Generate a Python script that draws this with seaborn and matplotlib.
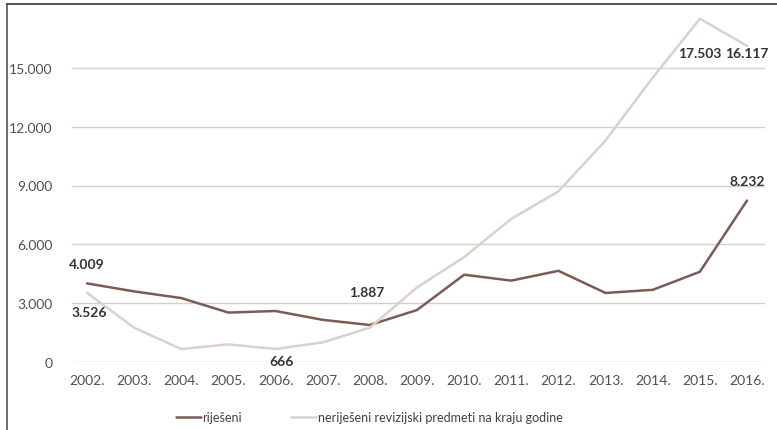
import pandas as pd
import numpy as np
import matplotlib
matplotlib.use("Agg")
import matplotlib.pyplot as plt
import seaborn as sns

# -----------------------------
# Data
# -----------------------------

years = ["2002.", "2003.", "2004.", "2005.", "2006.", "2007.", "2008.",
         "2009.", "2010.", "2011.", "2012.", "2013.", "2014.", "2015.", "2016."]

rijeseni = [4009, 3600, 3260, 2520, 2600, 2150, 1887,
            2650, 4450, 4150, 4650, 3520, 3680, 4600, 8232]

nerijeseni = [3526, 1750, 660, 900, 666, 1000, 1750,
              3800, 5350, 7300, 8700, 11300, 14500, 17503, 16117]

series_names = ["riješeni", "neriješeni revizijski predmeti na kraju godine"]
series_colors = ["#7b5c55", "#ddd0cb"]

# labels shown on the chart: (series index, year index, text, dx, dy)
point_labels = [
    (0, 0, "4.009", 0, 14),
    (1, 0, "3.526", 2, -14),
    (1, 4, "666", 4, -9),
    (0, 6, "1.887", -2, 24),
    (1, 13, "17.503", 0, -25),
    (1, 14, "16.117", 0, -5),
    (0, 14, "8.232", 0, 14),
]

y_ticks = [0, 3000, 6000, 9000, 12000, 15000]

# -----------------------------
# Build long-form table
# -----------------------------

x_idx = np.arange(len(years))
df = pd.DataFrame({
    "x": np.concatenate([x_idx, x_idx]),
    "value": rijeseni + nerijeseni,
    "serija": [series_names[0]] * len(years) + [series_names[1]] * len(years),
})

# -----------------------------
# Plot
# -----------------------------

sns.set_style("white")
plt.rcParams["font.family"] = ["Lato", "DejaVu Sans"]

fig = plt.figure(figsize=(7.77, 4.31), dpi=100)
ax = fig.add_axes([72 / 777, (431 - 363) / 431, 693 / 777, 353 / 431])

sns.lineplot(data=df, x="x", y="value", hue="serija",
             palette=dict(zip(series_names, series_colors)),
             linewidth=1.8, ax=ax, legend=False)

ax.set_xlim(-15 / 47.14, 14 + 18 / 47.14)
ax.set_ylim(0, 18000)
ax.set_yticks(y_ticks)
ax.set_yticklabels([f"{v:,}".replace(",", ".") for v in y_ticks])
ax.set_xticks(x_idx)
ax.set_xticklabels(years)
ax.tick_params(axis="both", length=0, labelsize=10, colors="#505050")
ax.tick_params(axis="x", pad=9)
ax.tick_params(axis="y", pad=14)
ax.set_xlabel("")
ax.set_ylabel("")
ax.grid(axis="y", color="#d8cfcb", linewidth=1)
ax.set_axisbelow(True)
for s in ax.spines.values():
    s.set_visible(False)

# value labels
all_series = [rijeseni, nerijeseni]
for si, xi, txt, dx, dy in point_labels:
    ax.annotate(txt, (xi, all_series[si][xi]), xytext=(dx, dy),
                textcoords="offset points", ha="center", va="center",
                fontsize=10, fontweight="bold", color="#333333")

# legend at bottom
handles = [plt.Line2D([0], [0], color=c, linewidth=1.8) for c in series_colors]
fig.legend(handles, series_names, loc="center", bbox_to_anchor=(0.475, 0.03),
           ncol=2, frameon=False, fontsize=9, handlelength=2.0,
           handletextpad=0.1, columnspacing=4.0, labelcolor="#404040")

# outer frame (left and top edge of cropped box)
fig.add_artist(plt.Line2D([7 / 777, 7 / 777], [0, 1 - 5 / 431], color="#555555", linewidth=1.2))
fig.add_artist(plt.Line2D([7 / 777, 1], [1 - 5 / 431, 1 - 5 / 431], color="#333333", linewidth=1.2))

fig.savefig("out.png", dpi=100)
